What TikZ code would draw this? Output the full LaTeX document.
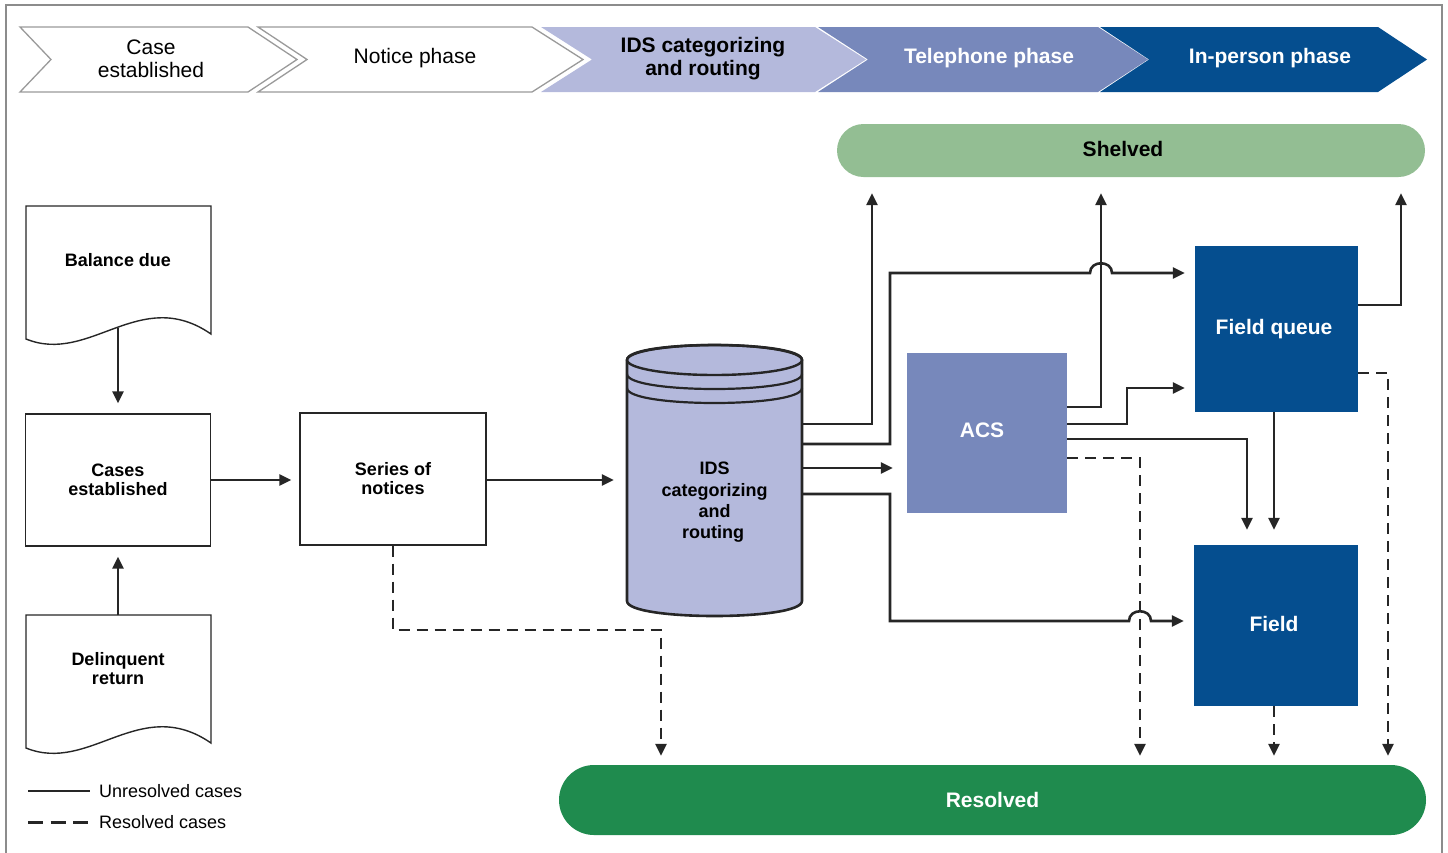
\documentclass[tikz,border=0pt]{standalone}
\usepackage{fontspec}
\setmainfont{Liberation Sans}
\usetikzlibrary{arrows.meta}
\definecolor{lav}{HTML}{B4B9DC}
\definecolor{midb}{HTML}{7788BB}
\definecolor{darkb}{HTML}{054E8F}
\definecolor{shelg}{HTML}{93BE93}
\definecolor{resg}{HTML}{1F8B4E}
\definecolor{ink}{HTML}{262626}
\definecolor{framegray}{HTML}{8C8C8C}
\definecolor{chevgray}{HTML}{9A9A9A}
\begin{document}
\begin{tikzpicture}[x=1pt,y=-1pt,
  conn/.style={draw=ink, line width=2.6pt, -{Triangle[length=12pt,width=11pt]}},
  dconn/.style={conn, dash pattern=on 11pt off 7pt},
  chevw/.style={fill=white, draw=chevgray, line width=1.3pt, line join=miter},
  hdr/.style={align=center, inner sep=0pt, font=\fontsize{21}{23}\selectfont},
  hdrb/.style={align=center, inner sep=0pt, font=\fontsize{21}{23}\selectfont\bfseries},
  small/.style={align=center, inner sep=0pt, font=\fontsize{18}{19}\selectfont\bfseries},
  docline/.style={draw=ink, line width=1.4pt, fill=white},
  wbox/.style={draw=ink, line width=1.4pt, fill=white, inner sep=0pt, small},
  bbox/.style={inner sep=0pt, text=white, font=\fontsize{21}{23}\selectfont\bfseries},
  pill/.style={inner sep=0pt, font=\fontsize{21}{23}\selectfont\bfseries},
  legtext/.style={anchor=west, inner sep=0pt, font=\fontsize{18}{20}\selectfont}
]
\useasboundingbox (0,0) rectangle (1448,852);
\draw[framegray, line width=1.5pt] (6,860) -- (6,5) -- (1442,5) -- (1442,860);

% phase chevrons
\path[chevw] (20,27) -- (248,27) -- (297,59.5) -- (248,92) -- (20,92) -- (51,59.5) -- cycle;
\path[chevw] (258,27) -- (532,27) -- (583,59.5) -- (532,92) -- (258,92) -- (307,59.5) -- cycle;
\fill[lav] (541,27) -- (815,27) -- (866,59.5) -- (815,92) -- (541,92) -- (592,59.5) -- cycle;
\fill[midb] (818,27) -- (1098,27) -- (1148,59.5) -- (1098,92) -- (818,92) -- (868,59.5) -- cycle;
\fill[darkb] (1100,27) -- (1378,27) -- (1427,59.5) -- (1378,92) -- (1100,92) -- (1149,59.5) -- cycle;
\node[hdr] (h1) at (151,58.5) {Case\\established};
\node[hdr] (h2) at (415,58.5) {Notice phase};
\node[hdrb] (h3) at (703,59) {IDS categorizing\\and routing};
\node[hdrb, text=white] (h4) at (989,58.5) {Telephone phase};
\node[hdrb, text=white] (h5) at (1270,58.5) {In-person phase};

% documents
\path[docline] (26,206) -- (211,206) -- (211,334) .. controls (140,285) and (90,365) .. (26,339) -- cycle;
\node[small] (bal) at (118,260) {Balance due};
\coordinate (balout) at (118,328);
\path[docline] (26,615) -- (211,615) -- (211,743) .. controls (140,694) and (90,774) .. (26,748) -- cycle;
\node[small] (del) at (118,669) {Delinquent\\return};
\coordinate (delin) at (118,615);

% boxes
\node[wbox, minimum width=185pt, minimum height=132pt] (cases) at (118,480) {Cases\\established};
\node[wbox, minimum width=186pt, minimum height=132pt] (series) at (393,479) {Series of\\notices};

% cylinder
\path[fill=lav, draw=ink, line width=2.6pt] (627,360) -- (627,601) .. controls (627,621) and (802,621) .. (802,601) -- (802,360) .. controls (802,340) and (627,340) .. (627,360) -- cycle;
\draw[ink, line width=2.4pt] (714.5,360) ellipse [x radius=87.5, y radius=15];
\draw[ink, line width=2.2pt] (627,374) .. controls (627,394) and (802,394) .. (802,374);
\draw[ink, line width=2.2pt] (627,388) .. controls (627,408) and (802,408) .. (802,388);
\node[minimum width=175pt, inner sep=0pt, align=center, font=\fontsize{18}{21.3}\selectfont\bfseries] (ids) at (714.5,502.5) {IDS\\categorizing\\and\\routing\hspace*{3pt}};

\node[bbox, fill=midb, minimum width=160pt, minimum height=160pt] (acs) at (987,433) {\raisebox{5pt}{ACS}\hspace*{10pt}};
\node[bbox, fill=darkb, minimum width=163pt, minimum height=166pt] (fq) at (1276.5,329) {Field queue\hspace*{5pt}};
\node[bbox, fill=darkb, minimum width=164pt, minimum height=161pt] (field) at (1276,625.5) {\raisebox{4pt}{Field}\hspace*{4pt}};
\node[pill, fill=shelg, rounded corners=26.5pt, minimum width=588pt, minimum height=53pt] (shelved) at (1131,150.5) {\raisebox{3pt}{Shelved}\hspace*{16pt}};
\node[pill, fill=resg, text=white, rounded corners=35pt, minimum width=867pt, minimum height=70pt] (resolved) at (992.5,800) {Resolved};

% connectors
\draw[conn, shorten >=10pt] (balout) -- (cases.north);
\draw[conn, shorten >=10pt] (delin) -- (cases.south);
\draw[conn, shorten >=8pt] (cases.east |- 0,480) -- (series.west |- 0,480);
\draw[conn, shorten >=13pt] (series.east |- 0,480) -- (ids.west |- 0,480);
\draw[dconn, shorten >=9pt] (series.south) |- (661,630) -- (661,0 |- resolved.north);

\draw[conn, shorten >=16pt] (ids.east |- 0,424) -| (872,0 |- shelved.south);
\draw[conn, shorten >=10pt] (ids.east |- 0,444) -- (890,444) -- (890,273) -- (1090,273) .. controls (1090,260) and (1112,260) .. (1112,273) -- (fq.west |- 0,273);
\draw[conn, shorten >=14pt] (ids.east |- 0,468) -- (acs.west |- 0,468);
\draw[conn, shorten >=10pt] (ids.east |- 0,494) -- (890,494) -- (890,621) -- (1129,621) .. controls (1129,608) and (1151,608) .. (1151,621) -- (field.west |- 0,621);

\draw[conn, shorten >=16pt] (acs.east |- 0,407) -| (1101,0 |- shelved.south);
\draw[conn, shorten >=10pt] (acs.east |- 0,424) -- (1127,424) -- (1127,388) -- (fq.west |- 0,388);
\draw[conn, shorten >=15pt] (acs.east |- 0,439) -| (1247,0 |- field.north);
\draw[dconn, shorten >=9pt] (acs.east |- 0,458) -| (1140,0 |- resolved.north);

\draw[conn, shorten >=15pt] (1274,0 |- fq.south) -- (1274,0 |- field.north);
\draw[conn, shorten >=16pt] (fq.east |- 0,305) -| (1401,0 |- shelved.south);
\draw[dconn, shorten >=9pt] (fq.east |- 0,373) -| (1388,0 |- resolved.north);
\draw[dconn, shorten >=9pt] (1274,0 |- field.south) -- (1274,0 |- resolved.north);

% legend
\node[legtext] (lg1) at (99,791) {Unresolved cases};
\node[legtext] (lg2) at (99,822) {Resolved cases};
\coordinate (la) at (28,791);
\coordinate (lb) at (28,822);
\draw[ink, line width=2.8pt] (la) -- ([xshift=-9pt]lg1.west);
\draw[ink, line width=3pt, dash pattern=on 15pt off 7.5pt] (lb) -- ([xshift=-10pt]lg2.west);
\end{tikzpicture}
\end{document}
